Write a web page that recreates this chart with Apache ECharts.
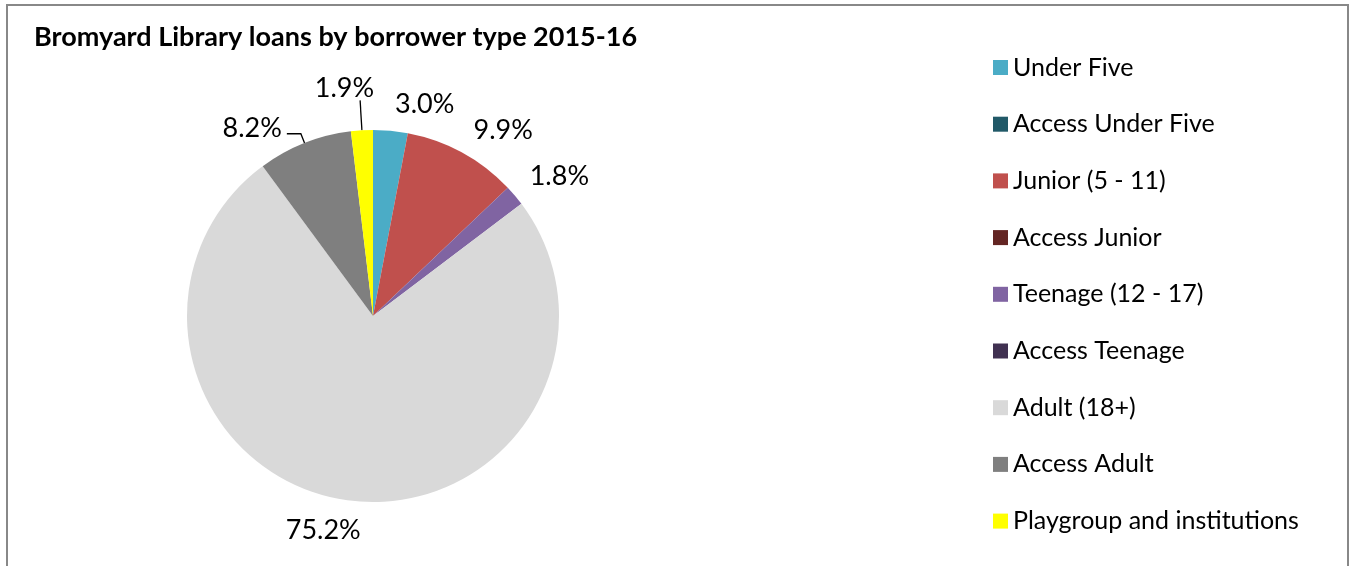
<!DOCTYPE html>
<html>
<head>
<meta charset="utf-8">
<script src="https://cdn.jsdelivr.net/npm/echarts@6/dist/echarts.min.js"></script>
<style>
html,body{margin:0;padding:0;background:#fff;}
#chart{width:1351px;height:566px;}
</style>
</head>
<body>
<div id="chart"></div>
<script>
const titleText = 'Bromyard Library loans by borrower type 2015-16';
const categories = ['Under Five', 'Access Under Five', 'Junior (5 - 11)', 'Access Junior', 'Teenage (12 - 17)', 'Access Teenage', 'Adult (18+)', 'Access Adult', 'Playgroup and institutions'];
const values = [3.0, 0, 9.9, 0, 1.8, 0, 75.2, 8.2, 1.9];
const colors = ['#4BACC6', '#215968', '#C0504D', '#632523', '#8064A2', '#403151', '#D9D9D9', '#7F7F7F', '#FFFF00'];

const FONT = 'Lato';
const chart = echarts.init(document.getElementById('chart'), null, {renderer: 'canvas'});

// label placement tweaks (style only)
const labelStyleTweaks = {
  'Junior (5 - 11)': {line: {length: 26, length2: 2}, dist: -3, lift: 0},
  'Teenage (12 - 17)': {line: {length: 30, length2: 2}, dist: -10, lift: 0},
  'Adult (18+)': {line: {length: 31, length2: 0}, dist: -19, lift: 0},
  'Access Adult': {line: {show: true, length: 10, length2: 14}, dist: 5, lift: 10},
  'Playgroup and institutions': {line: {show: true, length: 30, length2: 0}, dist: -14, lift: 24}
};

const data = categories.map((c, i) => {
  const d = {name: c, value: values[i], itemStyle: {color: colors[i]}};
  const t = labelStyleTweaks[c];
  if (t) {
    d.labelLine = t.line;
    d.label = {distanceToLabelLine: t.dist};
  }
  return d;
});

chart.setOption({
  backgroundColor: '#fff',
  animation: false,
  title: {
    text: titleText,
    left: 34, top: 24, padding: 0,
    textStyle: {fontFamily: FONT, fontSize: 27, fontWeight: 'bold', color: '#000'}
  },
  legend: {
    orient: 'vertical',
    left: 993, top: 55, padding: 0,
    itemWidth: 15, itemHeight: 15, itemGap: 31.7,
    icon: 'rect',
    selectedMode: false,
    textStyle: {fontFamily: FONT, fontSize: 25, lineHeight: 22, color: '#000'},
    data: categories
  },
  graphic: [{
    type: 'polyline',
    shape: {points: [[7, 570], [7, 5], [1348, 5], [1348, 570]]},
    style: {stroke: '#888', lineWidth: 2, fill: null},
    silent: true
  }],
  series: [{
    type: 'pie',
    center: [373, 316],
    radius: 186,
    startAngle: 90,
    clockwise: true,
    avoidLabelOverlap: false,
    itemStyle: {borderWidth: 0},
    emphasis: {disabled: true},
    label: {
      show: true,
      position: 'outside',
      fontFamily: FONT, fontSize: 27, color: '#000',
      distanceToLabelLine: 0,
      formatter: p => {
        if (p.value === 0) return '';
        const txt = '{u|' + p.value.toFixed(1) + '%}';
        const t = labelStyleTweaks[p.name];
        if (t && t.lift) return txt + '\n{s' + t.lift + '|}';
        return txt;
      },
      rich: {
        u: {fontFamily: FONT, fontSize: 27, color: '#000', lineHeight: 30},
        s10: {lineHeight: 10, height: 10, fontSize: 1},
        s24: {lineHeight: 24, height: 24, fontSize: 1}
      }
    },
    labelLine: {show: false, length: 27, length2: 2, lineStyle: {color: '#000', width: 1.3}},
    data: data
  }]
});
</script>
</body>
</html>
